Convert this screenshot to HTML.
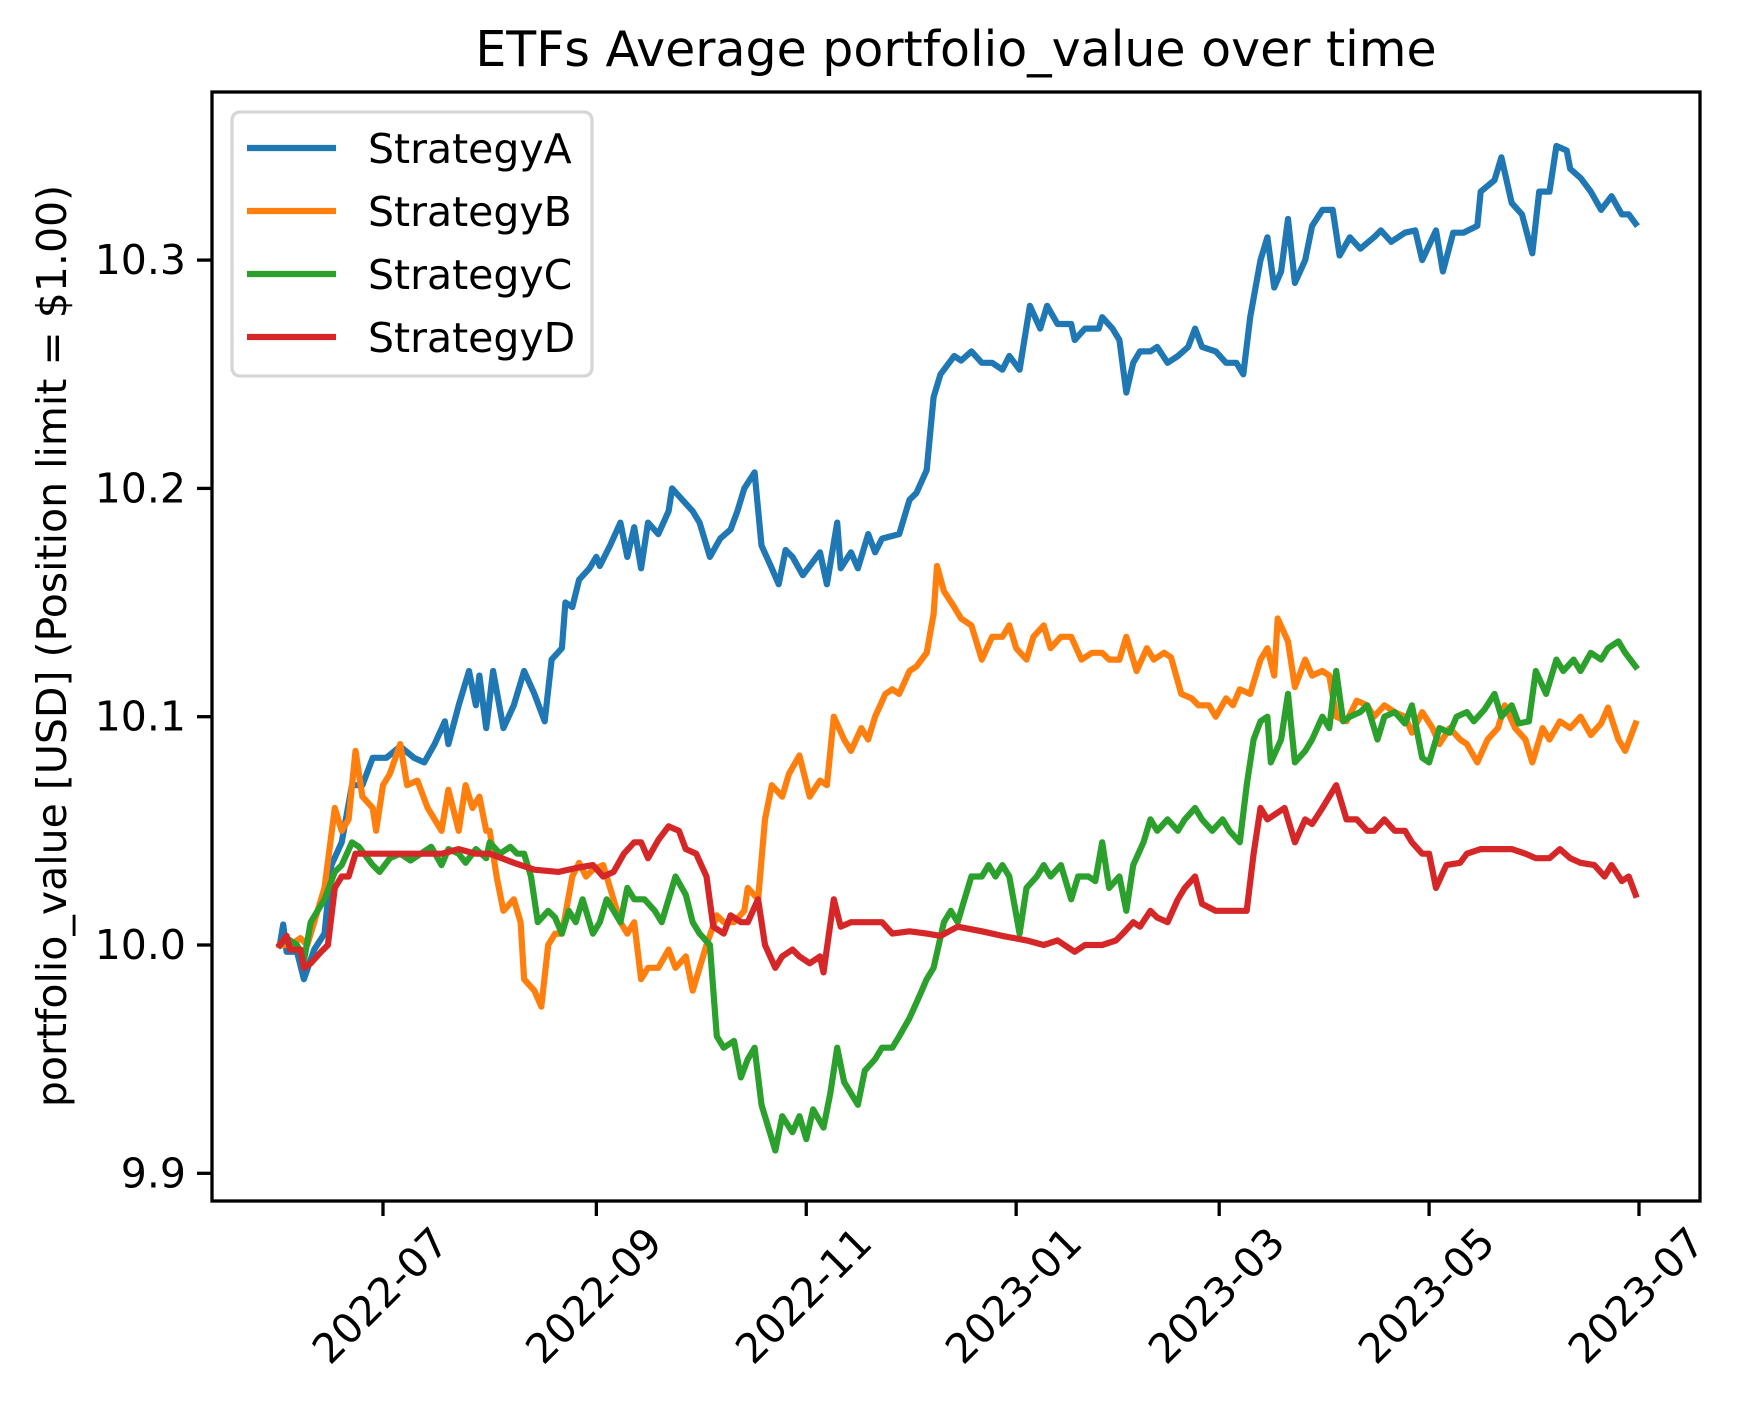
<!DOCTYPE html>
<html><head><meta charset="utf-8"><style>
html,body{margin:0;padding:0;background:#fff;}
svg{display:block;font-family:"DejaVu Sans","Liberation Sans",sans-serif;}
</style></head><body>
<svg id="chart" width="1745" height="1413" viewBox="0 0 1745 1413" xmlns="http://www.w3.org/2000/svg">
<rect width="1745" height="1413" fill="#fff"/>
<text x="956" y="66" font-size="49" text-anchor="middle" fill="#000">ETFs Average portfolio_value over time</text>
<text transform="translate(66,646) rotate(-90)" font-size="41" text-anchor="middle" fill="#000">portfolio_value [USD] (Position limit = $1.00)</text>
<g id="plot"></g>
<rect x="212" y="92" width="1488" height="1109" fill="none" stroke="#000" stroke-width="3.3"/>
</svg>
<script>
const startDate = "2022-06-01";
const xTickLabels = ["2022-07","2022-09","2022-11","2023-01","2023-03","2023-05","2023-07"];
const yTickValues = [9.9, 10.0, 10.1, 10.2, 10.3];
const yTickLabels = ["9.9","10.0","10.1","10.2","10.3"];
const seriesNames = ["StrategyA","StrategyB","StrategyC","StrategyD"];
const seriesColors = ["#1f77b4","#ff7f0e","#2ca02c","#d62728"];

const daysA = [0,1,2,5,7,10,13,15,18,21,24,27,31,35,39,42,45,48,49,52,55,57,58,60,62,65,68,71,74,77,79,82,83,85,87,90,92,93,96,99,101,103,105,107,110,113,114,117,120,122,125,128,131,133,135,138,140,143,145,147,149,152,155,157,159,162,163,166,168,171,173,175,180,183,185,188,190,192,196,198,201,204,207,210,212,215,218,221,223,226,230,231,234,238,239,242,244,246,248,250,253,255,258,261,264,266,268,272,275,278,280,282,285,287,289,291,293,295,298,300,303,306,308,311,314,318,320,323,327,330,332,336,338,341,344,348,349,353,355,358,361,364,366,369,371,374,375,378,381,384,387,390,392,394];
const valsA = [10.0,10.009,9.997,9.997,9.985,9.998,10.005,10.035,10.045,10.07,10.07,10.082,10.082,10.087,10.082,10.08,10.088,10.098,10.088,10.105,10.12,10.105,10.118,10.095,10.12,10.095,10.105,10.12,10.11,10.098,10.125,10.13,10.15,10.148,10.16,10.165,10.17,10.166,10.175,10.185,10.17,10.183,10.165,10.185,10.18,10.19,10.2,10.195,10.19,10.185,10.17,10.178,10.182,10.19,10.2,10.207,10.175,10.165,10.158,10.173,10.17,10.162,10.168,10.172,10.158,10.185,10.165,10.172,10.165,10.18,10.172,10.178,10.18,10.195,10.198,10.208,10.24,10.25,10.258,10.256,10.26,10.255,10.255,10.252,10.258,10.252,10.28,10.27,10.28,10.272,10.272,10.265,10.27,10.27,10.275,10.27,10.265,10.242,10.255,10.26,10.26,10.262,10.255,10.258,10.262,10.27,10.262,10.26,10.255,10.255,10.25,10.275,10.3,10.31,10.288,10.295,10.318,10.29,10.3,10.315,10.322,10.322,10.302,10.31,10.305,10.31,10.313,10.308,10.312,10.313,10.3,10.313,10.295,10.312,10.312,10.315,10.33,10.335,10.345,10.325,10.32,10.303,10.33,10.33,10.35,10.348,10.34,10.336,10.33,10.322,10.328,10.32,10.32,10.316];

const daysB = [0,3,6,8,10,13,16,18,20,22,24,27,28,30,32,35,37,40,43,45,47,49,52,54,56,58,60,61,63,65,68,70,71,74,76,78,80,82,85,87,89,91,94,96,99,101,103,105,107,110,113,115,118,120,122,124,127,129,132,135,136,139,141,143,146,148,151,154,157,159,161,164,166,169,171,173,176,178,180,183,185,188,190,191,193,196,198,201,202,204,207,210,212,214,217,219,222,224,227,230,233,236,239,241,244,246,249,252,254,257,259,262,265,267,270,272,275,277,279,282,285,287,289,290,293,295,298,300,303,305,307,310,313,316,318,321,324,327,329,332,335,337,340,343,345,348,351,354,356,359,362,364,367,369,372,375,378,381,384,386,389,391,394];
const valsB = [10.0,10.0,10.003,10.0,10.01,10.025,10.06,10.05,10.055,10.085,10.065,10.06,10.05,10.07,10.075,10.088,10.07,10.072,10.06,10.055,10.05,10.068,10.05,10.07,10.06,10.065,10.05,10.05,10.03,10.015,10.02,10.01,9.985,9.98,9.973,10.0,10.005,10.005,10.03,10.036,10.03,10.033,10.035,10.025,10.01,10.005,10.01,9.985,9.99,9.99,9.998,9.99,9.995,9.98,9.99,10.0,10.013,10.01,10.01,10.015,10.025,10.02,10.055,10.07,10.065,10.075,10.083,10.065,10.072,10.07,10.1,10.09,10.085,10.095,10.09,10.1,10.11,10.112,10.11,10.12,10.122,10.128,10.145,10.166,10.155,10.148,10.143,10.14,10.135,10.125,10.135,10.135,10.14,10.13,10.125,10.135,10.14,10.13,10.135,10.135,10.125,10.128,10.128,10.125,10.125,10.135,10.12,10.13,10.125,10.128,10.126,10.11,10.108,10.105,10.105,10.1,10.108,10.105,10.112,10.11,10.125,10.13,10.118,10.143,10.133,10.113,10.125,10.118,10.12,10.118,10.1,10.098,10.107,10.105,10.1,10.105,10.102,10.1,10.093,10.102,10.095,10.088,10.095,10.09,10.088,10.08,10.09,10.095,10.105,10.095,10.09,10.08,10.095,10.09,10.098,10.095,10.1,10.092,10.097,10.104,10.09,10.085,10.097];

const daysC = [0,2,5,7,9,13,16,18,21,23,27,29,32,35,38,41,44,47,49,52,54,57,60,61,64,67,69,71,73,75,78,80,82,84,86,88,91,93,95,97,99,101,103,106,109,111,113,115,118,120,122,125,127,129,132,134,136,138,140,142,144,146,149,151,153,155,158,160,162,164,166,168,170,173,175,178,180,183,186,188,190,193,195,197,199,201,204,206,208,210,212,215,217,220,222,224,227,230,232,235,237,239,241,244,246,248,251,253,255,258,261,263,266,268,271,274,276,279,281,283,285,287,288,291,293,295,298,300,303,305,307,309,311,314,316,319,321,324,327,329,332,334,337,340,342,345,347,350,353,355,358,360,363,365,368,371,373,376,378,381,384,386,389,391,394];
const valsC = [10.0,10.003,10.0,9.993,10.01,10.02,10.032,10.035,10.045,10.043,10.035,10.032,10.038,10.04,10.037,10.04,10.043,10.035,10.042,10.04,10.036,10.042,10.038,10.045,10.04,10.043,10.04,10.04,10.03,10.01,10.015,10.012,10.005,10.015,10.01,10.02,10.005,10.01,10.02,10.015,10.01,10.025,10.02,10.02,10.015,10.01,10.02,10.03,10.022,10.01,10.005,10.0,9.96,9.955,9.958,9.942,9.95,9.955,9.93,9.92,9.91,9.925,9.918,9.925,9.915,9.928,9.92,9.935,9.955,9.94,9.935,9.93,9.945,9.95,9.955,9.955,9.96,9.968,9.978,9.985,9.99,10.01,10.015,10.01,10.02,10.03,10.03,10.035,10.03,10.035,10.03,10.005,10.025,10.03,10.035,10.03,10.035,10.02,10.03,10.03,10.028,10.045,10.025,10.03,10.015,10.035,10.045,10.055,10.05,10.055,10.05,10.055,10.06,10.055,10.05,10.055,10.05,10.045,10.07,10.09,10.098,10.1,10.08,10.09,10.11,10.08,10.085,10.09,10.1,10.095,10.12,10.098,10.1,10.102,10.105,10.09,10.1,10.102,10.097,10.105,10.082,10.08,10.095,10.093,10.1,10.102,10.098,10.103,10.11,10.1,10.105,10.097,10.098,10.12,10.11,10.125,10.12,10.125,10.12,10.128,10.125,10.13,10.133,10.128,10.122];

const daysD = [0,2,3,6,7,9,12,14,16,18,20,22,24,27,31,36,42,47,52,57,61,68,74,81,87,91,94,97,100,103,105,107,110,113,116,118,121,124,126,129,131,134,136,139,141,144,146,149,151,154,157,158,161,163,166,170,175,178,183,188,192,197,204,210,217,222,226,231,234,239,243,245,248,250,253,255,258,261,263,266,268,272,275,278,281,283,285,287,290,292,295,298,300,303,305,307,310,313,316,318,321,324,327,329,332,334,336,339,343,345,349,354,358,362,365,369,372,375,378,382,385,387,390,392,394];
const valsD = [10.0,10.004,9.998,9.998,9.99,9.992,9.997,10.0,10.025,10.03,10.03,10.04,10.04,10.04,10.04,10.04,10.04,10.04,10.042,10.04,10.04,10.036,10.033,10.032,10.034,10.035,10.03,10.032,10.04,10.045,10.045,10.038,10.046,10.052,10.05,10.042,10.04,10.03,10.008,10.005,10.013,10.01,10.01,10.02,10.0,9.99,9.995,9.998,9.995,9.992,9.995,9.988,10.02,10.008,10.01,10.01,10.01,10.005,10.006,10.005,10.004,10.008,10.006,10.004,10.002,10.0,10.002,9.997,10.0,10.0,10.002,10.005,10.01,10.008,10.015,10.012,10.01,10.02,10.025,10.03,10.018,10.015,10.015,10.015,10.015,10.04,10.06,10.055,10.058,10.06,10.045,10.055,10.053,10.06,10.065,10.07,10.055,10.055,10.05,10.05,10.055,10.05,10.05,10.045,10.04,10.04,10.025,10.035,10.036,10.04,10.042,10.042,10.042,10.04,10.038,10.038,10.042,10.038,10.036,10.035,10.03,10.035,10.028,10.03,10.022];

const allDays = [daysA, daysB, daysC, daysD];
const allVals = [valsA, valsB, valsC, valsD];

const NS = "http://www.w3.org/2000/svg";
const DAY = 86400000;
const t0 = Date.parse(startDate + "T00:00:00Z");
const xRef0 = Date.parse("2022-07-01T00:00:00Z"), xRef1 = Date.parse("2023-07-01T00:00:00Z");
function xScale(ms){ return 383 + (ms - xRef0) / (xRef1 - xRef0) * (1639 - 383); }
function yScale(v){ return 945 - (v - 10.0) * 2283; }
function mk(tag, attrs){ const e = document.createElementNS(NS, tag); for (const k in attrs) e.setAttribute(k, attrs[k]); return e; }
const plot = document.getElementById("plot");

yTickValues.forEach((v, i) => {
  const y = yScale(v);
  const tk = mk("line", {x1: 197, x2: 212, y1: y, y2: y, stroke: "#000", "stroke-width": 3.3});
  
  
  plot.appendChild(tk);
  const tx = mk("text", {x: 186, y: y + 14, "font-size": 41, "text-anchor": "end", fill: "#000"});
  tx.textContent = yTickLabels[i];
  
  
  plot.appendChild(tx);
});
xTickLabels.forEach((lab) => {
  const x = xScale(Date.parse(lab + "-01T00:00:00Z"));
  const tk = mk("line", {x1: x, x2: x, y1: 1201, y2: 1216, stroke: "#000", "stroke-width": 3.3});
  
  
  plot.appendChild(tk);
  const tx = mk("text", {transform: `translate(${x + 68},${1245}) rotate(-45)`, "font-size": 41, "text-anchor": "end", fill: "#000"});
  tx.textContent = lab;
  
  
  plot.appendChild(tx);
});
allDays.forEach((days, s) => {
  const vals = allVals[s];
  const d = days.map((dd, i) => (i ? "L" : "M") + xScale(t0 + dd * DAY).toFixed(1) + "," + yScale(vals[i]).toFixed(1)).join(" ");
  const p = mk("path", {d: d, fill: "none", stroke: seriesColors[s], "stroke-width": 6.2, "stroke-linejoin": "round", "stroke-linecap": "square"});
  
  
  plot.appendChild(p);
});
const lg = mk("g", {});


const box = mk("rect", {x: 232, y: 112, width: 360, height: 264, rx: 8, fill: "#fff", "fill-opacity": 0.8, stroke: "#d6d6d6", "stroke-width": 3.3});


lg.appendChild(box);
seriesNames.forEach((n, i) => {
  const y = 148 + i * 63;
  const ln = mk("line", {x1: 247, x2: 336, y1: y, y2: y, stroke: seriesColors[i], "stroke-width": 6.2});
  
  
  lg.appendChild(ln);
  const tx = mk("text", {x: 368, y: y + 15, "font-size": 41, fill: "#000"});
  tx.textContent = n;
  
  
  lg.appendChild(tx);
});
plot.appendChild(lg);
</script>
</body></html>
